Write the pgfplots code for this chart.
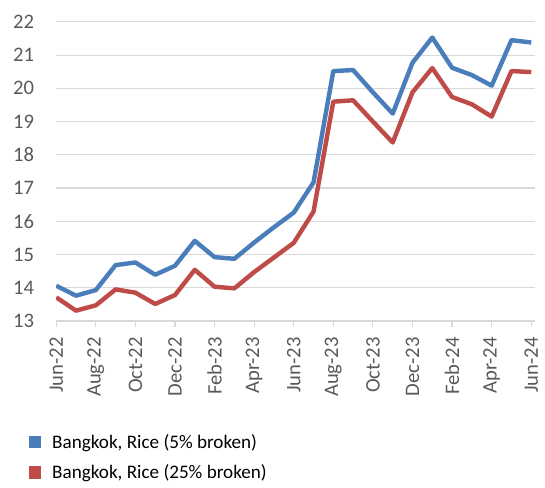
\documentclass[border=0pt]{standalone}
\usepackage{pgfplots}
\pgfplotsset{compat=1.18}
\usepackage{fontspec}
\setmainfont{Carlito}
\definecolor{sblue}{HTML}{4A7EBB}
\definecolor{sred}{HTML}{BE4B48}
\definecolor{tickgray}{HTML}{595959}
\definecolor{gridgray}{HTML}{D9D9D9}
\begin{document}
\begin{tikzpicture}
\begin{axis}[name=ax, scale only axis, width=488pt, height=304.7pt,
  xmin=0, xmax=24.2, ymin=13, ymax=22,
  axis x line*=bottom, axis y line*=left,
  x axis line style={gridgray, line width=1.2pt, -},
  y axis line style={draw=none},
  ytick={13,14,...,22},
  xtick={0,2,...,24},
  xticklabels={Jun-22,Aug-22,Oct-22,Dec-22,Feb-23,Apr-23,Jun-23,Aug-23,Oct-23,Dec-23,Feb-24,Apr-24,Jun-24},
  ymajorgrids, grid style={gridgray, line width=1.2pt},
  xtick style={gridgray, line width=1.2pt},
  major tick length=6pt, tick align=outside,
  ytick style={draw=none},
  /pgf/number format/assume math mode=true,
  tick label style={font=\fontsize{21}{24}\selectfont, text=tickgray},
  x tick label style={rotate=90, anchor=east},
  yticklabel style={anchor=east},
  yticklabel shift=13pt,
  xticklabel shift=7pt,
  legend cell align=left,
  legend style={at={(axis description cs:-0.058,-0.372)}, anchor=north west, draw=none, fill=none,
    font=\fontsize{19.5}{22}\selectfont, inner sep=0pt, row sep=11pt},
  legend image code/.code={\fill[draw=none] (0pt,-6.5pt) rectangle (13pt,6.5pt); \path[draw=none] (13pt,0pt) -- (22pt,0pt);},
]
\addplot[sblue, line width=4.5pt, line join=round] coordinates {
(0,14.06)(1,13.76)(2,13.93)(3,14.68)(4,14.76)(5,14.39)(6,14.66)(7,15.41)(8,14.92)(9,14.87)
(10,15.36)(11,15.82)(12,16.26)(13,17.17)(14,20.52)(15,20.55)(16,19.88)(17,19.24)(18,20.77)
(19,21.53)(20,20.62)(21,20.40)(22,20.08)(23,21.45)(24,21.38)};
\addlegendentry{Bangkok, Rice (5\% broken)}
\addplot[sred, line width=4.5pt, line join=round] coordinates {
(0,13.71)(1,13.31)(2,13.47)(3,13.95)(4,13.85)(5,13.51)(6,13.78)(7,14.54)(8,14.03)(9,13.98)
(10,14.47)(11,14.91)(12,15.35)(13,16.29)(14,19.60)(15,19.64)(16,19.00)(17,18.37)(18,19.88)
(19,20.61)(20,19.74)(21,19.52)(22,19.15)(23,20.52)(24,20.49)};
\addlegendentry{Bangkok, Rice (25\% broken)}
\end{axis}
\pgfresetboundingbox
\path[use as bounding box] ([xshift=-57.3pt,yshift=-170pt]ax.south west) rectangle ([xshift=10pt,yshift=22.3pt]ax.north east);
\end{tikzpicture}
\end{document}
